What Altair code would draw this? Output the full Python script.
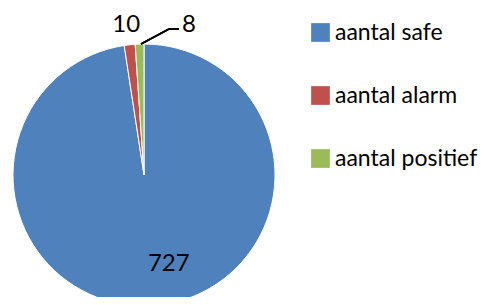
import altair as alt
import pandas as pd

categories = ["aantal safe", "aantal alarm", "aantal positief"]
values = [727, 10, 8]
colors = ["#4F81BD", "#C0504D", "#9BBB59"]

df = pd.DataFrame({"cat": categories, "value": values, "idx": list(range(len(values)))})

FONT = "Lato"
FS = 24
CX, CY, R = 136, 167, 131

base = alt.Chart(df).encode(
    theta=alt.Theta("value:Q", stack=True),
    order=alt.Order("idx:Q"),
)

pie = base.mark_arc(radius=R, stroke="white", strokeWidth=1).encode(
    x=alt.value(CX),
    y=alt.value(CY),
    color=alt.Color(
        "cat:N",
        sort=categories,
        scale=alt.Scale(domain=categories, range=colors),
        legend=alt.Legend(
            title=None,
            orient="none",
            legendX=301,
            legendY=13,
            symbolType="square",
            symbolSize=350,
            symbolStrokeWidth=0,
            labelFont=FONT,
            labelFontSize=23,
            labelColor="#000000",
            labelOffset=3,
            rowPadding=39,
            padding=0,
            labelLimit=300,
        ),
    ),
)


def label(cat, radius, dx, dy):
    return base.transform_calculate(
        lbl=f"datum.cat == '{cat}' ? format(datum.value, 'd') : ''"
    ).mark_text(
        radius=radius, dx=dx, dy=dy, font=FONT, fontSize=FS, color="#000000",
        align="center", baseline="middle"
    ).encode(x=alt.value(CX), y=alt.value(CY), text="lbl:N")


lbl_safe = label("aantal safe", 90, 18, -1)
lbl_alarm = label("aantal alarm", 153, -1, 2)
lbl_pos = label("aantal positief", 153, 50, 3)

lead1 = alt.Chart(df).mark_rule(color="#000000", strokeWidth=1.5).encode(
    x=alt.value(133), y=alt.value(36), x2=alt.value(161), y2=alt.value(21)
)
lead2 = alt.Chart(df).mark_rule(color="#000000", strokeWidth=1.5).encode(
    x=alt.value(161), y=alt.value(21), x2=alt.value(171), y2=alt.value(21)
)

chart = alt.layer(pie, lbl_safe, lbl_alarm, lbl_pos, lead1, lead2).properties(
    width=475, height=289, padding=0, autosize=alt.AutoSizeParams(type="none")
).configure_view(stroke=None)

chart.save("out.html", embed_options={"renderer": "svg", "actions": False})
